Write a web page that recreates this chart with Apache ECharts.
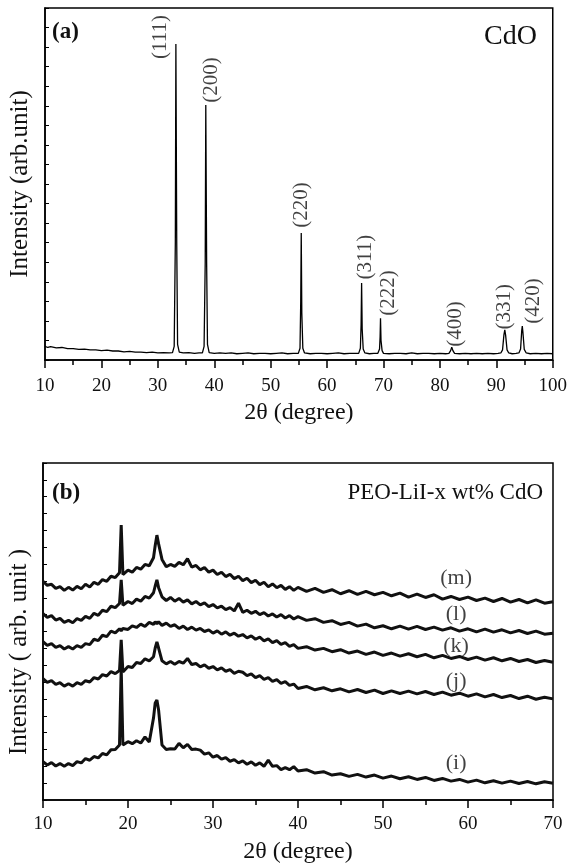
<!DOCTYPE html>
<html>
<head>
<meta charset="utf-8">
<script src="https://cdn.jsdelivr.net/npm/echarts@6/dist/echarts.min.js"></script>
<style>html,body{margin:0;padding:0;background:#fff}#c{width:570px;height:865px}</style>
</head>
<body>
<div id="c"></div>
<script>
// ---------- Panel (a): CdO XRD ----------
const a2theta = [10,10.5,11,12,13,14,15,16,17,18,19,20,21,22,23,24,25,26,27,28,29,30,31,32,32.6,32.9,33.1,33.2,33.35,33.5,33.8,34.5,35.5,36.5,37.3,37.9,38.2,38.4,38.5,38.65,38.8,39.1,40,41,42,43,44,45,46,47,48,49,50,51,52,53,54,54.9,55.2,55.33,55.42,55.52,55.7,56.0,57,58,59,60,61,62,63,64,65,65.6,65.9,66.03,66.12,66.22,66.4,66.7,67.5,68.3,69.0,69.3,69.4,69.47,69.56,69.75,70.0,71,72,73,74,75,76,77,78,79,80,81,81.6,81.9,82.1,82.3,82.6,83.5,84.5,85.5,86.5,87.5,88.5,89.5,90.3,90.8,91.1,91.35,91.5,91.65,91.9,92.2,92.8,93.5,94.0,94.3,94.5,94.6,94.7,94.95,95.3,96,97,98,99,100];
const aIntensity = [3.5,3.2,3.4,3.1,3.2,2.9,2.9,2.7,2.8,2.6,2.6,2.4,2.5,2.3,2.3,2.1,2.2,2.0,2.0,1.9,2.0,1.8,1.9,1.8,1.9,3.5,30,80.8,30,4.0,2.0,1.8,1.9,1.7,1.8,1.8,3.5,25,65.2,25,4.0,1.9,1.7,1.8,1.7,1.8,1.6,1.7,1.8,1.6,1.7,1.7,1.6,1.7,1.8,1.6,1.7,1.7,3.0,15,32.5,12,3.0,1.8,1.6,1.7,1.7,1.6,1.7,1.8,1.6,1.7,1.7,1.7,3.0,9,19.7,8,2.8,1.8,1.6,1.7,1.7,2.8,6,10.7,5,2.4,1.7,1.6,1.7,1.7,1.6,1.8,1.6,1.7,1.7,1.6,1.7,1.6,1.7,2.4,3.3,2.4,1.7,1.6,1.7,1.6,1.7,1.6,1.7,1.6,1.7,1.8,2.6,6.5,7.7,6.3,2.6,1.8,1.6,1.7,1.8,2.8,7.5,8.7,7.3,2.7,1.8,1.6,1.7,1.6,1.7,1.6];
const planeLabels = ['(111)','(200)','(220)','(311)','(222)','(400)','(331)','(420)'];
const planeX = [30.4,39.5,55.5,66.8,70.9,82.8,91.5,96.6];
const planeY = [82.6,71.6,39.6,26.3,17.1,9.2,13.6,15.1];

// ---------- Panel (b): PEO-LiI-x wt% CdO ----------
const b2theta = [10,10.5,11,11.5,12,12.5,13,13.5,14,14.5,15,15.5,16,16.5,17,17.5,18,18.5,19,19.2,19.4,20,20.5,21,21.5,22,22.5,23,23.2,23.4,23.6,24,24.5,25,25.5,26,26.5,27,27.5,28,28.5,29,29.5,30,30.5,31,31.5,32,32.5,33,33.5,34,34.5,35,35.5,36,36.5,37,37.5,38,38.5,39,39.5,40,41,42,43,44,45,46,47,48,49,50,51,52,53,54,55,56,57,58,59,60,61,62,63,64,65,66,67,68,69,70];
const curveM = [64.9,63.7,64.0,62.8,63.3,62.2,63.1,62.3,63.4,62.7,64.0,63.2,64.6,64.0,65.4,64.9,66.4,66.0,67.4,81.6,66.9,68.2,67.6,69.0,68.5,69.9,69.5,71.9,75.5,78.6,76.0,71.4,69.2,69.9,69.3,70.5,69.8,71.6,69.1,69.6,68.3,69.0,67.6,68.2,66.9,67.6,66.3,67.0,65.7,66.4,65.1,65.8,64.5,65.2,63.9,64.6,63.3,64.1,63.0,63.7,62.5,63.3,62.2,63.1,61.9,62.8,61.6,62.4,61.2,62.1,61.0,61.9,60.9,61.6,60.6,61.4,60.2,61.1,60.1,60.9,59.6,60.4,59.5,60.2,59.2,59.9,58.9,59.8,58.7,59.5,58.5,59.4,58.4,58.8];
const curveL = [55.3,54.2,54.7,53.4,53.9,52.7,53.3,52.6,53.8,53.3,54.5,53.9,55.4,54.8,56.3,55.9,57.5,57.1,58.3,65.3,57.8,58.9,58.3,59.6,59.0,60.4,59.9,61.5,63.5,65.3,63.0,60.3,59.2,60.1,59.0,59.8,58.7,59.4,58.2,58.9,57.9,58.5,57.4,58.0,57.0,57.5,56.5,57.1,56.1,58.4,55.7,56.3,55.4,56.0,55.0,55.6,54.6,55.2,54.3,55.0,54.0,54.7,53.7,54.4,53.3,53.8,52.7,53.2,52.1,52.7,51.6,52.2,51.1,51.7,50.8,51.6,50.7,51.5,50.6,51.3,50.4,51.1,50.1,50.8,49.9,50.7,49.8,50.5,49.6,50.3,49.4,50.1,49.2,49.5];
const curveK = [47.0,45.9,46.4,45.3,45.8,44.8,45.5,44.8,45.8,45.3,46.4,46.1,47.7,47.3,48.9,48.5,50.1,49.6,50.8,50.2,50.9,50.6,51.7,51.2,52.2,51.5,52.7,52.1,52.9,52.3,52.9,51.8,52.5,51.5,52.0,50.9,51.6,50.6,51.3,50.4,50.9,50.0,50.5,49.5,50.2,49.2,49.9,48.9,49.5,48.6,49.1,48.1,48.7,47.7,48.3,47.2,47.8,46.7,47.3,46.2,46.7,45.6,46.1,45.0,45.5,44.5,45.0,44.0,44.6,43.6,44.2,43.2,43.9,42.9,43.6,42.7,43.4,42.5,43.2,42.2,42.9,42.0,42.6,41.7,42.4,41.5,42.2,41.3,42.0,41.1,41.7,40.8,41.4,40.9];
const curveJ = [36.0,34.9,35.4,34.3,34.8,33.8,34.5,33.8,34.8,34.3,35.4,35.0,36.3,35.9,37.2,36.8,38.1,37.5,38.4,47.5,38.0,39.6,39.3,40.8,40.5,41.9,41.3,42.5,45.1,46.9,45.1,41.3,40.4,41.1,40.3,41.1,40.6,42.0,40.2,40.5,39.5,40.1,39.1,39.6,38.6,39.2,38.2,38.7,37.6,38.2,37.9,36.9,37.4,36.3,36.9,35.8,36.3,35.2,35.7,34.6,35.1,34.0,34.4,33.1,33.7,32.7,33.3,32.4,33.0,32.1,32.8,31.9,32.6,31.6,32.4,31.6,32.3,31.5,32.2,31.3,32.0,31.1,31.7,30.8,31.5,30.6,31.3,30.4,31.0,30.1,30.8,29.9,30.5,30.0];
const curveI = [11.4,10.4,11.1,10.1,10.8,10.0,10.8,10.2,11.4,11.0,12.3,11.8,12.9,12.5,13.8,13.4,14.9,15.0,16.3,39.2,16.3,17.3,16.7,17.6,16.9,18.7,17.2,24.3,28.8,29.7,26.7,16.3,15.0,15.2,15.1,16.8,15.5,16.5,15.0,15.1,14.8,13.6,14.0,12.7,13.2,12.1,12.6,11.5,12.0,11.0,11.6,10.6,11.3,10.3,11.0,10.0,11.8,10.0,10.2,9.0,9.6,9.0,9.9,8.6,9.0,8.0,8.4,7.4,7.8,7.0,7.6,6.8,7.4,6.5,7.1,6.3,6.9,6.1,6.7,5.8,6.4,5.6,6.1,5.3,5.9,5.1,5.7,5.0,5.6,4.9,5.5,4.8,5.4,5.0];
const curveLabels = ['(m)','(l)','(k)','(j)','(i)'];
const curveLabelX = [58.6,58.6,58.6,58.6,58.6];
const curveLabelY = [65.9,55.2,45.7,35.3,11.0];

const xTicksA = {min:10, max:100, interval:10};
const xTicksB = {min:10, max:70, interval:10};

const FONT = '"Liberation Serif", "Times New Roman", serif';
const TXT = '#111';

function xAx(grid, t, margin, gap){
  return {gridIndex:grid, type:'value', min:t.min, max:t.max, interval:t.interval,
    axisLine:{show:true, lineStyle:{color:'#000', width:1.5}},
    axisTick:{show:true, inside:false, length:8, lineStyle:{color:'#000', width:1.5}},
    minorTick:{show:true, splitNumber:2, length:5, lineStyle:{color:'#000', width:1.5}},
    splitLine:{show:false}, minorSplitLine:{show:false},
    axisLabel:{fontFamily:FONT, fontSize:19, color:TXT, margin:margin, showMinLabel:true, showMaxLabel:true},
    name:'2θ (degree)', nameLocation:'middle', nameGap:gap,
    nameTextStyle:{fontFamily:FONT, fontSize:24, color:TXT}};
}
function yAx(grid, max, name, gap){
  return {gridIndex:grid, type:'value', min:0, max:max, interval:5,
    axisLine:{show:true, lineStyle:{color:'#000', width:1.5}},
    axisTick:{show:true, inside:true, length:4, lineStyle:{color:'#000', width:1}},
    axisLabel:{show:false}, splitLine:{show:false},
    name:name, nameLocation:'middle', nameGap:gap,
    nameTextStyle:{fontFamily:FONT, fontSize:25, color:TXT}};
}
function pairs(xs, ys){ return xs.map((x,i)=>[x, ys[i]]); }
function labelSeries(xi, yi, xs, ys, texts, rot, size){
  return {type:'scatter', xAxisIndex:xi, yAxisIndex:yi, silent:true, symbol:'circle', symbolSize:1,
    itemStyle:{color:'rgba(0,0,0,0)'},
    data: xs.map((x,i)=>[x, ys[i], texts[i]]),
    label:{show:true, position:'inside', rotate:rot, formatter:p=>p.value[2],
      fontFamily:FONT, fontSize:size, color:TXT}};
}
function bLine(ys){
  return {type:'line', xAxisIndex:1, yAxisIndex:1, data:pairs(b2theta, ys), symbol:'none',
    lineStyle:{color:'#111', width:3}, silent:true};
}

const chart = echarts.init(document.getElementById('c'), null, {renderer:'canvas'});
chart.setOption({
  animation:false,
  backgroundColor:'#fff',
  grid:[
    {left:43, top:8, width:510, height:352, show:true, borderColor:'#000', borderWidth:1.5, backgroundColor:'rgba(0,0,0,0)'},
    {left:43, top:463, width:510, height:337, show:true, borderColor:'#000', borderWidth:1.5, backgroundColor:'rgba(0,0,0,0)'}
  ],
  xAxis:[xAx(0, xTicksA, 17, 41), xAx(1, xTicksB, 15, 40)],
  yAxis:[yAx(0, 90, 'Intensity (arb.unit)', 12), yAx(1, 100, '', 12)],
  graphic:[
    {type:'text', x:52, y:32, style:{text:'(a)', font:'bold 23px "Liberation Serif"', fill:TXT, textVerticalAlign:'middle'}},
    {type:'text', x:537, y:37, style:{text:'CdO', font:'28px "Liberation Serif"', fill:TXT, textAlign:'right', textVerticalAlign:'middle'}},
    {type:'text', x:52, y:493, style:{text:'(b)', font:'bold 23px "Liberation Serif"', fill:TXT, textVerticalAlign:'middle'}},
    {type:'text', x:543, y:493, style:{text:'PEO-LiI-x wt% CdO', font:'23px "Liberation Serif"', fill:TXT, textAlign:'right', textVerticalAlign:'middle'}},
    {type:'text', x:19, y:652, rotation:Math.PI/2, style:{text:'Intensity ( arb. unit )', font:'25px "Liberation Serif"', fill:TXT, textAlign:'center', textVerticalAlign:'middle'}}
  ],
  series:[
    {type:'line', xAxisIndex:0, yAxisIndex:0, data:pairs(a2theta, aIntensity), symbol:'none',
      lineStyle:{color:'#000', width:1.3}, silent:true},
    labelSeries(0, 0, planeX, planeY, planeLabels, 90, 21),
    bLine(curveM), bLine(curveL), bLine(curveK), bLine(curveJ), bLine(curveI),
    labelSeries(1, 1, curveLabelX, curveLabelY, curveLabels, 0, 22)
  ]
});
</script>
</body>
</html>
